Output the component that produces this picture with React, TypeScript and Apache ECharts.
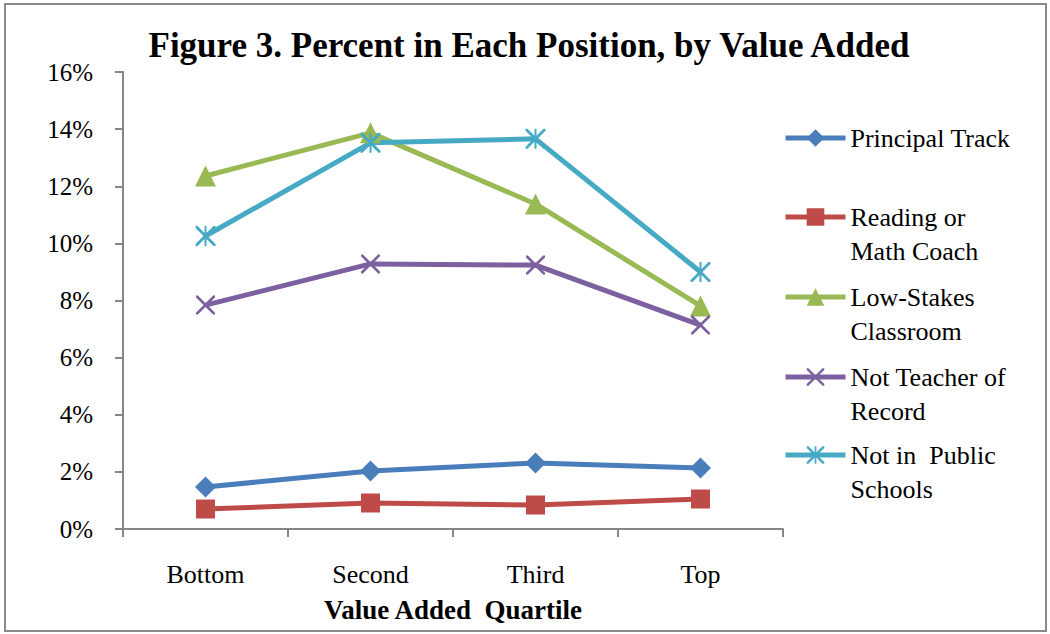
import React, { useEffect, useRef } from "react";
import * as echarts from "echarts";

const categories = ["Bottom", "Second", "Third", "Top"];
const principalTrack = [1.47, 2.03, 2.31, 2.14];
const readingMathCoach = [0.7, 0.91, 0.84, 1.05];
const lowStakes = [12.36, 13.87, 11.38, 7.81];
const notTeacherOfRecord = [7.84, 9.28, 9.24, 7.14];
const notInPublicSchools = [10.26, 13.52, 13.66, 9.0];
const yTicks = [0, 2, 4, 6, 8, 10, 12, 14, 16];

const seriesNames = [
  "Principal Track",
  "Reading or\nMath Coach",
  "Low-Stakes\nClassroom",
  "Not Teacher of\nRecord",
  "Not in  Public\nSchools",
];

const X_PATH =
  "path://M0,0 L2,0 L10,8 L18,0 L20,0 L20,2 L12,10 L20,18 L20,20 L18,20 L10,12 L2,20 L0,20 L0,18 L8,10 L0,2 Z";
const STAR_PATH =
  "path://M0,0 L2,0 L10,8 L18,0 L20,0 L20,2 L12,10 L20,18 L20,20 L18,20 L10,12 L2,20 L0,20 L0,18 L8,10 L0,2 Z M9,0 L11,0 L11,20 L9,20 Z";

const FONT = "'Liberation Serif', 'Times New Roman', serif";

export default function App() {
  const ref = useRef<HTMLDivElement>(null);
  useEffect(() => {
    document.body.style.margin = "0";
    const chart = echarts.init(ref.current!, null, { renderer: "svg" });
    const colors = ["#4A7EBB", "#BE4B48", "#98B954", "#7D60A0", "#46AAC5"];
    const datasets = [principalTrack, readingMathCoach, lowStakes, notTeacherOfRecord, notInPublicSchools];
    const symbols = ["diamond", "rect", "triangle", X_PATH, STAR_PATH];
    const symbolSizes = [21, 19, 21, 19, 20];
    const legendCenters = [138, 217, 297, 377, 455];
    const series = datasets.map((d, i) => ({
      name: seriesNames[i],
      type: "line",
      data: d,
      symbol: symbols[i],
      symbolSize: symbolSizes[i],
      symbolKeepAspect: true,
      lineStyle: { width: 5, color: colors[i] },
      itemStyle: { color: colors[i] },
      z: i === 0 || i === 1 ? 2 : 3,
    }));
    const legends = seriesNames.map((n, i) => ({
      show: true,
      left: 783,
      top: legendCenters[i] - (n.includes("\n") ? 51 : 17),
      orient: "vertical",
      itemWidth: 60,
      itemHeight: 22,
      itemGap: 0,
      padding: 0,
      selectedMode: false,
      lineStyle: { width: 5 },
      data: [n],
      formatter: (name: string) => (name.includes("\n") ? "\u00a0\n" + name : name),
      textStyle: {
        fontFamily: FONT,
        fontSize: 26,
        color: "#000",
        lineHeight: 34,
      },
    }));
    chart.setOption({
      animation: false,
      color: colors,
      title: {
        text: "Figure 3. Percent in Each Position, by Value Added",
        left: 524,
        textAlign: "center",
        top: 23,
        textStyle: { fontFamily: FONT, fontSize: 35, fontWeight: "bold", color: "#000" },
      },
      legend: legends,
      grid: { left: 123, top: 72, width: 660, height: 457, containLabel: false },
      xAxis: {
        type: "category",
        data: categories,
        boundaryGap: true,
        name: "Value Added  Quartile",
        nameLocation: "middle",
        nameGap: 67,
        nameTextStyle: { fontFamily: FONT, fontSize: 27, fontWeight: "bold", color: "#000" },
        axisLine: { lineStyle: { color: "#868686", width: 2 } },
        axisTick: { show: true, length: 8, lineStyle: { color: "#868686", width: 2 } },
        axisLabel: { fontFamily: FONT, fontSize: 26, color: "#000", margin: 32 },
      },
      yAxis: {
        type: "value",
        min: 0,
        max: 16,
        interval: 2,
        axisLine: { show: true, lineStyle: { color: "#868686", width: 2 } },
        axisTick: { show: true, length: 8, lineStyle: { color: "#868686", width: 2 } },
        splitLine: { show: false },
        axisLabel: {
          fontFamily: FONT,
          fontSize: 25,
          color: "#000",
          margin: 30,
          formatter: (v: number) => (yTicks.includes(v) ? `${v}%` : ""),
        },
      },
      graphic: [
        {
          type: "rect",
          shape: { x: 5, y: 4, width: 1041, height: 627 },
          style: { fill: "none", stroke: "#8a8a8a", lineWidth: 2 },
          silent: true,
        },
      ],
      series,
    });
    return () => chart.dispose();
  }, []);
  return <div ref={ref} style={{ width: 1050, height: 634 }} />;
}
